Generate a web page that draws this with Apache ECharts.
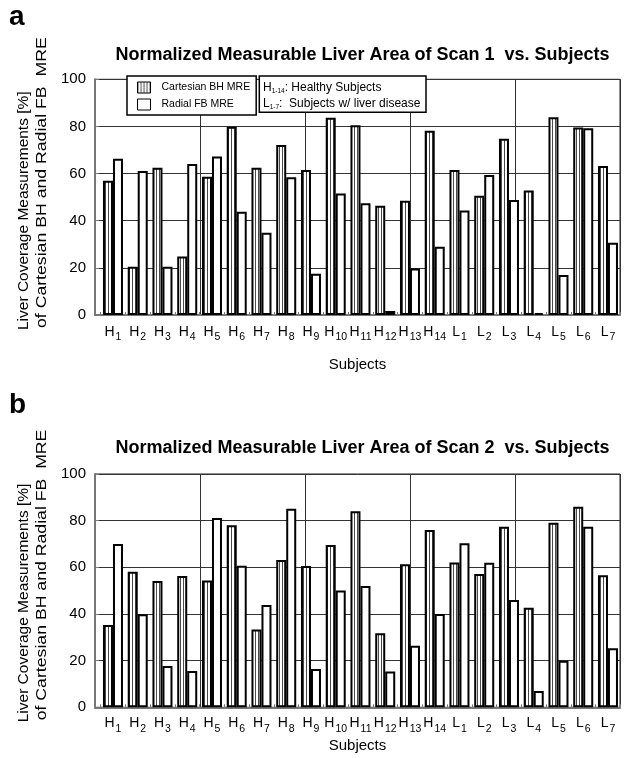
<!DOCTYPE html>
<html>
<head>
<meta charset="utf-8">
<script src="https://cdn.jsdelivr.net/npm/echarts@6/dist/echarts.min.js"></script>
<style>
html,body{margin:0;padding:0;background:#fff;}
#c{width:624px;height:758px;}
</style>
</head>
<body>
<div id="c"></div>
<script>
// ---- data ----
var categories = ['H1','H2','H3','H4','H5','H6','H7','H8','H9','H10','H11','H12','H13','H14','L1','L2','L3','L4','L5','L6','L7'];
var scan1Cartesian = [57.0, 20.5, 62.5, 24.8, 58.7, 79.9, 62.5, 72.1, 61.5, 83.7, 80.5, 46.3, 48.5, 78.2, 61.5, 50.6, 74.8, 52.8, 83.9, 79.5, 63.2];
var scan1Radial    = [66.3, 61.1, 20.5, 64.1, 67.2, 43.8, 34.9, 58.4, 17.5, 51.6, 47.4, 1.7, 19.7, 29.0, 44.3, 59.4, 48.8, 0.8, 17.0, 79.2, 30.7];
var scan2Cartesian = [35.3, 58.1, 54.1, 56.3, 54.4, 78.0, 33.4, 63.1, 60.6, 69.6, 84.0, 31.7, 61.3, 76.0, 62.1, 57.1, 77.4, 42.7, 79.1, 86.0, 56.6];
var scan2Radial    = [70.0, 39.9, 17.7, 15.6, 81.1, 60.7, 43.9, 85.1, 16.4, 50.1, 52.0, 15.3, 26.4, 40.0, 70.3, 62.0, 46.0, 7.0, 20.0, 77.4, 25.3];
var seriesNames = ['Cartesian BH MRE', 'Radial FB MRE'];
var titles = ['Normalized Measurable Liver Area of Scan 1  vs. Subjects', 'Normalized Measurable Liver Area of Scan 2  vs. Subjects'];
var xName = 'Subjects';
var yNameLines = ['Liver Coverage Measurements [%]', 'of Cartesian BH and Radial FB  MRE'];
var panelLabels = ['a', 'b'];
var noteLines = [['H', '1-14', ': Healthy Subjects'], ['L', '1-7', ':  Subjects w/ liver disease']];

// ---- styles ----
var FONT = '"Liberation Sans", Arial, Helvetica, sans-serif';
var stripe = document.createElement('canvas');
stripe.width = 3; stripe.height = 4;
(function(){
  var g = stripe.getContext('2d');
  g.fillStyle = '#ffffff'; g.fillRect(0,0,3,4);
  g.fillStyle = '#4a4a4a'; g.fillRect(0,0,1,4);
})();
var stripeFill = {image: stripe, repeat: 'repeat'};

var panels = [
  {top: 79.3, height: 235.7, cart: scan1Cartesian, rad: scan1Radial, titleTop: 46, labelY: 3, nameGap: 42, labelMargin: 6},
  {top: 474.0, height: 233.3, cart: scan2Cartesian, rad: scan2Radial, titleTop: 439, labelY: 391, nameGap: 31, labelMargin: 5}
];
var frameLeft = 95, frameWidth = 525;
var barLeft = 100.6, barWidth = 519.75;

var grid = [], xAxis = [], yAxis = [], series = [], title = [], graphic = [];
panels.forEach(function(p, i){
  grid.push({left: frameLeft, top: p.top, width: frameWidth, height: p.height, show: true, borderColor: '#222', borderWidth: 1, backgroundColor: 'transparent', containLabel: false, outerBoundsMode: 'none'});
  grid.push({left: barLeft, top: p.top, width: barWidth, height: p.height, containLabel: false, outerBoundsMode: 'none'});
  var g0 = i*2, g1 = i*2+1;
  xAxis.push({
    gridIndex: g0, type: 'value', min: 0, max: 5, interval: 1,
    axisLine: {show: true, onZero: false, lineStyle: {color: '#777', width: 2}},
    axisTick: {show: false}, axisLabel: {show: false},
    splitLine: {show: true, lineStyle: {color: '#333', width: 1}},
    name: xName, nameLocation: 'middle', nameGap: p.nameGap,
    nameTextStyle: {fontFamily: FONT, fontSize: 15, color: '#000'}
  });
  xAxis.push({
    gridIndex: g1, type: 'category', data: categories,
    axisLine: {show: false},
    axisTick: {show: true, inside: true, length: 3, lineStyle: {color: '#777', width: 1}},
    axisLabel: {
      margin: p.labelMargin, interval: 0,
      formatter: function(v){ return '{m|' + v.charAt(0) + '}{s|' + v.slice(1) + '}'; },
      rich: {
        m: {fontFamily: FONT, fontSize: 14, color: '#000', lineHeight: 16},
        s: {fontFamily: FONT, fontSize: 10.5, color: '#000', padding: [11, 0, 0, 1]}
      }
    },
    splitLine: {show: false}
  });
  yAxis.push({
    gridIndex: g0, type: 'value', min: 0, max: 100, interval: 20,
    axisLine: {show: true, onZero: false, lineStyle: {color: '#777', width: 2}},
    axisTick: {show: true, inside: true, length: 4, lineStyle: {color: '#777', width: 1}},
    axisLabel: {fontFamily: FONT, fontSize: 15, color: '#000', margin: 9},
    splitLine: {show: true, lineStyle: {color: '#333', width: 1}}
  });
  yAxis.push({gridIndex: g1, type: 'value', min: 0, max: 100, show: false, splitLine: {show: false}});
  series.push({
    name: seriesNames[0], type: 'bar', xAxisIndex: g1, yAxisIndex: g1, data: p.cart,
    barWidth: 10, barGap: '0%',
    itemStyle: {color: stripeFill, borderColor: '#000', borderWidth: 2},
    emphasis: {disabled: true}, animation: false
  });
  series.push({
    name: seriesNames[1], type: 'bar', xAxisIndex: g1, yAxisIndex: g1, data: p.rad,
    barWidth: 10, barGap: '0%',
    itemStyle: {color: '#fff', borderColor: '#000', borderWidth: 2},
    emphasis: {disabled: true}, animation: false
  });
  title.push({
    text: titles[i], left: 362.5, top: p.titleTop, textAlign: 'center', padding: 0,
    textStyle: {fontFamily: FONT, fontSize: 18, fontWeight: 'bold', color: '#000'}
  });
  graphic.push({type: 'text', x: 9, y: p.labelY, z: 100,
    style: {text: panelLabels[i], font: 'bold 28px ' + FONT, fill: '#000', textAlign: 'left', textVerticalAlign: 'top'}});
  var base = p.top + p.height + 15;
  graphic.push({type: 'text', x: 23.5, y: base, rotation: Math.PI/2, z: 100,
    style: {text: yNameLines[0], font: '15.5px ' + FONT, fill: '#000', textAlign: 'left', textVerticalAlign: 'middle'}});
  graphic.push({type: 'text', x: 42, y: base - 2, rotation: Math.PI/2, scaleX: 1.14, z: 100,
    style: {text: yNameLines[1], font: '15.5px ' + FONT, fill: '#000', textAlign: 'left', textVerticalAlign: 'middle'}});
});

// note box (top panel)
graphic.push({type: 'rect', z: 100, shape: {x: 259.3, y: 76, width: 166.7, height: 36.3},
  style: {fill: '#fff', stroke: '#000', lineWidth: 1.5}});
noteLines.forEach(function(l, k){
  graphic.push({type: 'text', z: 101, x: 263, y: 87.5 + k*16,
    style: {
      text: '{m|' + l[0] + '}{s|' + l[1] + '}{m|' + l[2] + '}',
      textVerticalAlign: 'middle',
      rich: {
        m: {fontFamily: FONT, fontSize: 12, fill: '#000', lineHeight: 14},
        s: {fontFamily: FONT, fontSize: 6.5, fill: '#000', padding: [7, 0, 0, 0]}
      }
    }});
});

var chart = echarts.init(document.getElementById('c'), null, {renderer: 'canvas'});
chart.setOption({
  animation: false,
  backgroundColor: '#fff',
  title: title,
  grid: grid,
  xAxis: xAxis,
  yAxis: yAxis,
  series: series,
  legend: {
    data: seriesNames, left: 127, top: 76, orient: 'vertical',
    icon: 'rect',
    itemWidth: 13, itemHeight: 11, itemGap: 5,
    padding: [5.5, 6, 4.5, 10],
    backgroundColor: '#fff', borderColor: '#000', borderWidth: 1.5,
    selectedMode: false, z: 50,
    itemStyle: {borderWidth: 1, borderColor: '#000'},
    textStyle: {fontFamily: FONT, fontSize: 10.5, color: '#000', padding: [0, 0, 0, 6]}
  },
  graphic: graphic
});
</script>
</body>
</html>
